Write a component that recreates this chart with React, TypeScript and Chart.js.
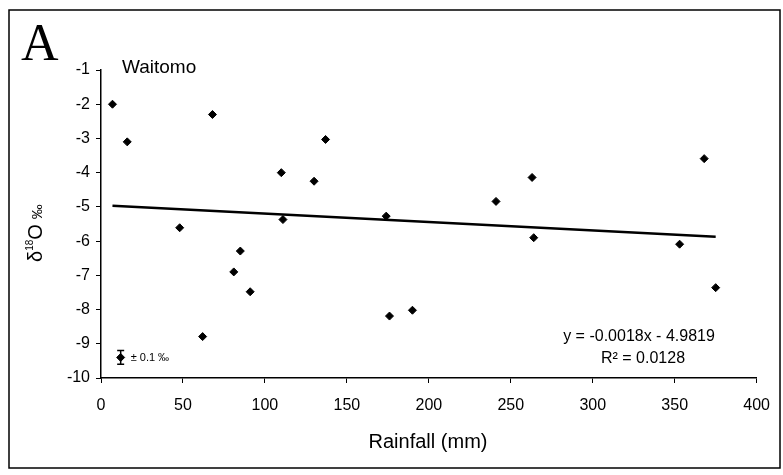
import React, { useEffect, useRef } from "react";
import { Chart, registerables } from "chart.js";

Chart.register(...registerables);

// Rainfall (mm) vs δ18O (‰), Waitomo
const rainfall = [7, 16, 68, 110, 130, 137, 111, 48, 174, 241, 263, 368, 264, 353, 375, 190, 176, 85, 81, 91, 62];
const delta18O = [-2.0, -3.1, -2.3, -4.0, -4.25, -3.03, -5.37, -5.61, -5.27, -4.84, -4.14, -3.59, -5.9, -6.09, -7.36, -8.02, -8.19, -6.29, -6.9, -7.48, -8.79];

// Trend line end points (as drawn)
const trendX = [7, 375];
const trendY = [-4.97, -5.87];

// Error legend sample
const errX = [12];
const errY = [-9.4];
const errHalf = 0.2;

const xMin = 0, xMax = 400, xStep = 50;
const yMin = -10, yMax = -1, yStep = 1;

const siteLabel = "Waitomo";
const panelLabel = "A";
const xTitle = "Rainfall (mm)";
const eqText = "y = -0.0018x - 4.9819";
const r2Text = "R² = 0.0128";
const errText = "± 0.1 ‰";

const SANS = '"Liberation Sans", Arial, sans-serif';
const SERIF = '"Liberation Serif", "Times New Roman", serif';

const decorPlugin = {
  id: "decor",
  afterDraw(chart: any) {
    const ctx = chart.ctx as CanvasRenderingContext2D;
    const xs = chart.scales.x;
    const ys = chart.scales.y;
    ctx.save();
    // frame
    ctx.strokeStyle = "#000";
    ctx.lineWidth = 1.5;
    ctx.strokeRect(9, 10, 771, 458);

    ctx.fillStyle = "#000";
    // panel letter
    ctx.font = `52px ${SERIF}`;
    ctx.textAlign = "left";
    ctx.textBaseline = "alphabetic";
    ctx.fillText(panelLabel, 21, 60);

    // site label
    ctx.font = `19px ${SANS}`;
    ctx.textBaseline = "middle";
    ctx.fillText(siteLabel, 122, 68);

    // error bar sample
    const ex = xs.getPixelForValue(errX[0]);
    const eyTop = ys.getPixelForValue(errY[0] + errHalf);
    const eyBot = ys.getPixelForValue(errY[0] - errHalf);
    ctx.lineWidth = 1.5;
    ctx.beginPath();
    ctx.moveTo(ex, eyTop);
    ctx.lineTo(ex, eyBot);
    ctx.moveTo(ex - 3.5, eyTop);
    ctx.lineTo(ex + 3.5, eyTop);
    ctx.moveTo(ex - 3.5, eyBot);
    ctx.lineTo(ex + 3.5, eyBot);
    ctx.stroke();
    ctx.font = `11px ${SANS}`;
    ctx.textBaseline = "middle";
    ctx.fillText(errText, ex + 10, ys.getPixelForValue(errY[0]) + 1);

    // equation
    ctx.font = `16px ${SANS}`;
    ctx.textAlign = "center";
    ctx.fillText(eqText, 639, 337);
    ctx.fillText(r2Text, 643, 359);

    // x title
    ctx.font = `20px ${SANS}`;
    ctx.fillText(xTitle, 428, 442);

    // y title rotated: δ18O ‰
    ctx.translate(42, 262);
    ctx.rotate(-Math.PI / 2);
    ctx.textAlign = "left";
    ctx.textBaseline = "alphabetic";
    let x = 0;
    ctx.font = `20px ${SANS}`;
    ctx.fillText("δ", x, 0);
    x += ctx.measureText("δ").width;
    ctx.font = `10px ${SANS}`;
    ctx.fillText("18", x, -9);
    x += ctx.measureText("18").width;
    ctx.font = `20px ${SANS}`;
    ctx.fillText("O", x, 0);
    x += ctx.measureText("O").width + 5;
    ctx.font = `15px ${SANS}`;
    ctx.fillText("‰", x, 0);
    ctx.restore();
  },
};

export default function App() {
  const ref = useRef<HTMLCanvasElement | null>(null);
  useEffect(() => {
    if (!ref.current) return;
    const chart = new Chart(ref.current, {
      type: "scatter",
      data: {
        datasets: [
          {
            label: "δ18O",
            data: rainfall.map((r, i) => ({ x: r, y: delta18O[i] })),
            pointStyle: "rectRot",
            pointRadius: 4,
            backgroundColor: "#000",
            borderColor: "#000",
            borderWidth: 1,
          },
          {
            label: "trend",
            data: trendX.map((v, i) => ({ x: v, y: trendY[i] })),
            showLine: true,
            pointRadius: 0,
            borderColor: "#000",
            borderWidth: 2.5,
          },
          {
            label: "error",
            data: errX.map((v, i) => ({ x: v, y: errY[i] })),
            pointStyle: "rectRot",
            pointRadius: 4,
            backgroundColor: "#000",
            borderColor: "#000",
          },
        ],
      },
      options: {
        responsive: false,
        animation: false,
        layout: { padding: { left: 0, top: 70, right: 26, bottom: 0 } },
        plugins: { legend: { display: false }, tooltip: { enabled: false } },
        scales: {
          x: {
            type: "linear",
            min: xMin,
            max: xMax,
            afterFit: (s: any) => { s.height = 97; },
            ticks: {
              stepSize: xStep,
              color: "#000",
              font: { family: SANS, size: 16 },
              padding: 13,
              maxRotation: 0,
            },
            grid: { drawOnChartArea: false, drawTicks: true, tickLength: 5, color: "#000", lineWidth: 1 },
            border: { display: true, color: "#000", width: 1.5 },
          },
          y: {
            type: "linear",
            min: yMin,
            max: yMax,
            afterFit: (s: any) => { s.width = 101; },
            ticks: {
              stepSize: yStep,
              color: "#000",
              font: { family: SANS, size: 16 },
              padding: 6,
            },
            grid: { drawOnChartArea: false, drawTicks: true, tickLength: 5, color: "#000", lineWidth: 1 },
            border: { display: true, color: "#000", width: 1.5 },
          },
        },
      },
      plugins: [decorPlugin],
    });
    return () => chart.destroy();
  }, []);
  return (
    <div style={{ position: "absolute", left: 0, top: 0, width: 783, height: 475, background: "#fff" }}>
      <canvas ref={ref} width={783} height={475} style={{ display: "block" }} />
    </div>
  );
}
